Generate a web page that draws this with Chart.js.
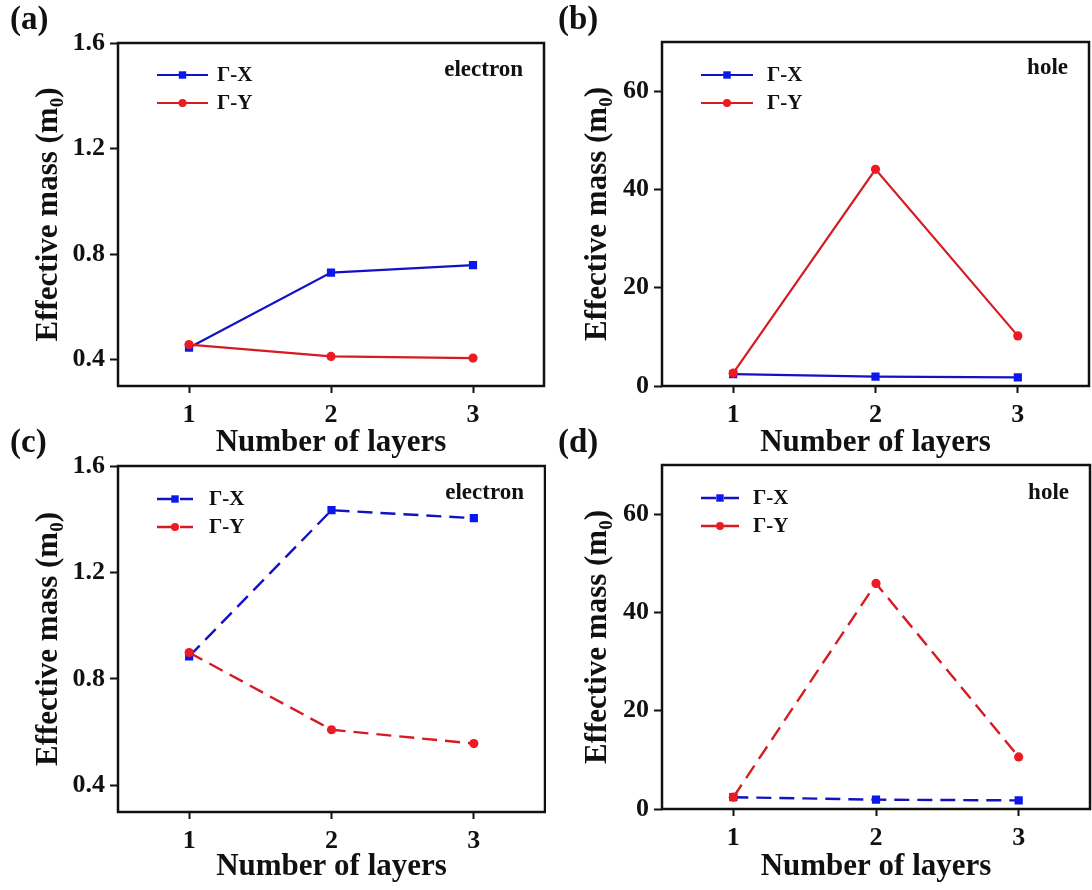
<!DOCTYPE html>
<html>
<head>
<meta charset="utf-8">
<script src="https://cdn.jsdelivr.net/npm/chart.js@4/dist/chart.umd.min.js"></script>
<style>
  body { margin: 0; background: #fff; }
  #wrap { position: relative; width: 1092px; height: 890px; background: #fff; overflow: hidden; }
  .panel { position: absolute; }
  .tag { position: absolute; font: bold 33px "Liberation Serif", serif; color: #111; }
</style>
</head>
<body>
<div id="wrap">
  <canvas class="panel" id="chartA" width="546" height="466" style="left:0;top:0"></canvas>
  <canvas class="panel" id="chartB" width="546" height="466" style="left:546px;top:0"></canvas>
  <canvas class="panel" id="chartC" width="546" height="460" style="left:0;top:430px"></canvas>
  <canvas class="panel" id="chartD" width="546" height="460" style="left:546px;top:430px"></canvas>
  <div class="tag" style="left:10px;top:0px">(a)</div>
  <div class="tag" style="left:558px;top:0px">(b)</div>
  <div class="tag" style="left:10px;top:423px">(c)</div>
  <div class="tag" style="left:558px;top:423px">(d)</div>
</div>
<script>
// Number of layers on the x axis
const layers = ['1', '2', '3'];

// Effective masses (m0) along Γ-X and Γ-Y
const elecSolidX = [0.445, 0.73, 0.758];
const elecSolidY = [0.457, 0.412, 0.406];
const holeSolidX = [2.4, 1.9, 1.75];
const holeSolidY = [2.6, 44.1, 10.2];
const elecDashX = [0.885, 1.434, 1.404];
const elecDashY = [0.899, 0.609, 0.557];
const holeDashX = [2.4, 1.9, 1.75];
const holeDashY = [2.4, 45.9, 10.6];

// y tick labels
const elecTicks = [0.4, 0.8, 1.2, 1.6];
const holeTicks = [0, 20, 40, 60];

const FONT = '"Liberation Serif", "Times New Roman", serif';
const BLUE = '#1212c4', BLUE_PT = '#0a18ee';
const RED = '#d41c22', RED_PT = '#ec1a22';

// box around the plot area
const framePlugin = {
  id: 'frame',
  beforeDatasetsDraw(chart) {
    const { ctx, chartArea: a } = chart;
    ctx.save();
    ctx.lineWidth = 2.5;
    ctx.strokeStyle = '#111';
    ctx.strokeRect(a.left, a.top, a.right - a.left, a.bottom - a.top);
    ctx.restore();
  }
};

// rotated y title with a subscript zero
const massTitlePlugin = {
  id: 'massTitle',
  afterDraw(chart, args, opts) {
    const { ctx, chartArea: a } = chart;
    const main = 'Effective mass (m', sub = '0', close = ')';
    ctx.save();
    ctx.fillStyle = '#111';
    ctx.textBaseline = 'middle';
    ctx.textAlign = 'left';
    ctx.translate(opts.x, (a.top + a.bottom) / 2);
    ctx.rotate(-Math.PI / 2);
    ctx.font = 'bold 31px ' + FONT;
    const w1 = ctx.measureText(main).width, w3 = ctx.measureText(close).width;
    ctx.font = 'bold 19px ' + FONT;
    const w2 = ctx.measureText(sub).width;
    let x = -(w1 + w2 + w3) / 2;
    ctx.font = 'bold 31px ' + FONT;
    ctx.fillText(main, x, 0);
    x += w1;
    ctx.font = 'bold 19px ' + FONT;
    ctx.fillText(sub, x, 9);
    x += w2;
    ctx.font = 'bold 31px ' + FONT;
    ctx.fillText(close, x, 0);
    ctx.restore();
  }
};

// legend drawn as line + marker + label, plus the carrier note
const keyPlugin = {
  id: 'key',
  afterDraw(chart, args, opts) {
    const { ctx, chartArea: a } = chart;
    ctx.save();
    chart.data.datasets.forEach((ds, i) => {
      const y = a.top + opts.rows[i];
      ctx.strokeStyle = ds.borderColor;
      ctx.lineWidth = ds.borderWidth;
      ctx.setLineDash(ds.borderDash || []);
      ctx.beginPath();
      ctx.moveTo(a.left + opts.x0, y);
      ctx.lineTo(a.left + opts.x1, y);
      ctx.stroke();
      ctx.setLineDash([]);
      const cx = a.left + (opts.x0 + opts.x1) / 2;
      ctx.fillStyle = ds.pointBackgroundColor;
      if (ds.pointStyle === 'rect') {
        ctx.fillRect(cx - 3.7, y - 3.7, 7.4, 7.4);
      } else {
        ctx.beginPath();
        ctx.arc(cx, y, 4, 0, Math.PI * 2);
        ctx.fill();
      }
      ctx.fillStyle = '#111';
      ctx.font = 'bold 21px ' + FONT;
      ctx.textBaseline = 'middle';
      ctx.textAlign = 'left';
      ctx.fillText(ds.label, a.left + opts.tx, y + 1);
    });
    ctx.font = 'bold 23px ' + FONT;
    ctx.textAlign = 'right';
    ctx.textBaseline = 'middle';
    ctx.fillStyle = '#111';
    ctx.fillText(opts.note, a.right - 21, a.top + opts.noteY);
    ctx.restore();
  }
};

function makeChart(id, gx, gy, box, yMin, yMax, yTicks, dashed, fmt, extra) {
  const dash = dashed ? [15, 8] : [];
  const lw = dashed ? 2.4 : 2.2;
  return new Chart(document.getElementById(id), {
    type: 'line',
    data: {
      labels: layers,
      datasets: [
        { label: 'Γ-X', data: gx, borderColor: BLUE, backgroundColor: BLUE_PT,
          pointBackgroundColor: BLUE_PT, pointBorderWidth: 0, pointStyle: 'rect',
          pointRadius: 5.8, borderWidth: lw, borderDash: dash, order: 1 },
        { label: 'Γ-Y', data: gy, borderColor: RED, backgroundColor: RED_PT,
          pointBackgroundColor: RED_PT, pointBorderWidth: 0, pointStyle: 'circle',
          pointRadius: 4.6, borderWidth: lw, borderDash: dash, order: 0 }
      ]
    },
    options: {
      responsive: false,
      animation: false,
      layout: { autoPadding: false, padding: { left: 0, top: box.top, right: box.right, bottom: 0 } },
      plugins: {
        legend: { display: false },
        tooltip: { enabled: false },
        massTitle: { x: extra.titleX },
        key: extra.key
      },
      scales: {
        x: {
          type: 'category',
          offset: true,
          grid: { display: true, drawOnChartArea: false, drawTicks: true, tickLength: 7,
                  tickWidth: 2, tickColor: '#111', offset: false },
          border: { display: false },
          ticks: { color: '#111', padding: 7, font: { family: FONT, size: 26, weight: 'bold' } },
          title: { display: true, text: 'Number of layers', color: '#111',
                   font: { family: FONT, size: 31, weight: 'bold' }, padding: { top: 0, bottom: 4 } },
          afterFit(scale) {
            scale.height = box.xh;
            scale.paddingLeft = 0;
            scale.paddingRight = 0;
          }
        },
        y: {
          min: yMin,
          max: yMax,
          grid: { display: true, drawOnChartArea: false, drawTicks: true, tickLength: 8,
                  tickWidth: 2, tickColor: '#111' },
          border: { display: false },
          afterBuildTicks(scale) { scale.ticks = yTicks.map(v => ({ value: v })); },
          ticks: { color: '#111', padding: 5, font: { family: FONT, size: 26, weight: 'bold' },
                   callback: fmt },
          afterFit(scale) {
            scale.width = box.left;
            scale.paddingTop = 0;
            scale.paddingBottom = 0;
          }
        }
      }
    },
    plugins: [framePlugin, massTitlePlugin, keyPlugin]
  });
}

const oneDecimal = v => v.toFixed(1);
const whole = v => String(v);

makeChart('chartA', elecSolidX, elecSolidY, { left: 118, top: 43, right: 2, xh: 466 - 386 },
  0.3, 1.6, elecTicks, false, oneDecimal,
  { titleX: 49, key: { x0: 39, x1: 90, tx: 99, rows: [32, 60], note: 'electron', noteY: 27 } });

makeChart('chartB', holeSolidX, holeSolidY, { left: 116, top: 42, right: 3, xh: 466 - 386 },
  0, 70, holeTicks, false, whole,
  { titleX: 52, key: { x0: 39, x1: 91, tx: 105, rows: [33, 61], note: 'hole', noteY: 26 } });

makeChart('chartC', elecDashX, elecDashY, { left: 118, top: 36, right: 1, xh: 460 - 382 },
  0.3, 1.6, elecTicks, true, oneDecimal,
  { titleX: 49, key: { x0: 39, x1: 75, tx: 91, rows: [33, 61], note: 'electron', noteY: 27 } });

makeChart('chartD', holeDashX, holeDashY, { left: 116, top: 35, right: 2, xh: 460 - 379 },
  0, 70, holeTicks, true, whole,
  { titleX: 52, key: { x0: 39, x1: 77, tx: 91, rows: [33, 61], note: 'hole', noteY: 28 } });
</script>
</body>
</html>
